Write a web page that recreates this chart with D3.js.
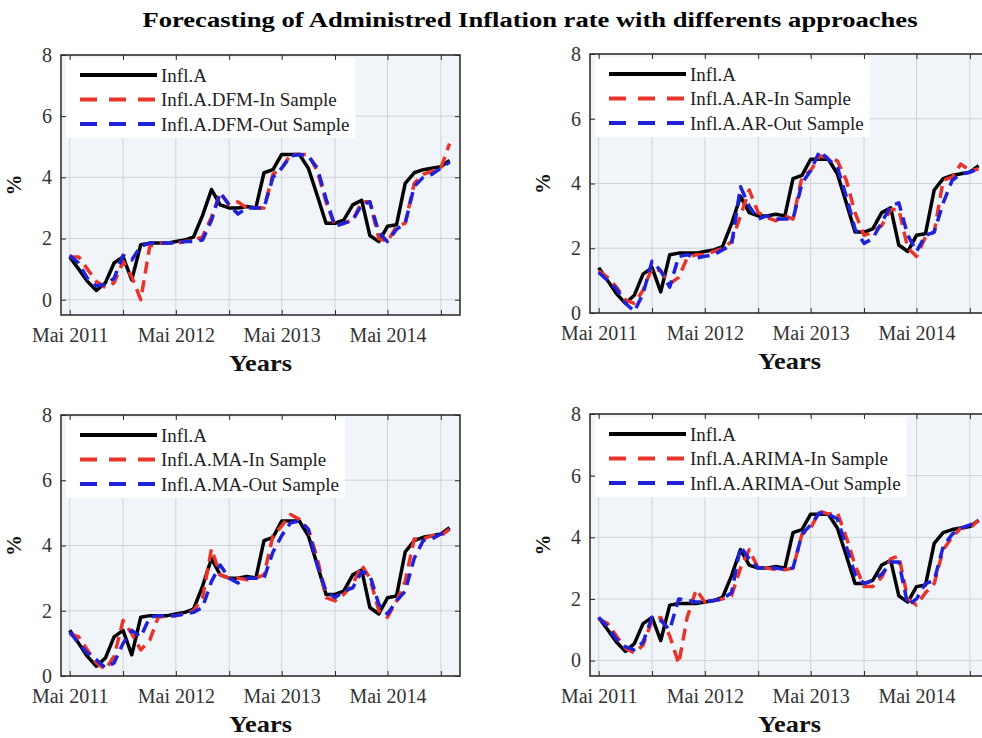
<!DOCTYPE html>
<html>
<head>
<meta charset="utf-8">
<script src="https://cdn.jsdelivr.net/npm/d3@7"></script>
<style>
  html, body { margin: 0; padding: 0; background: #fff; }
  svg { display: block; }
  text { font-family: "Liberation Serif", "Times New Roman", serif; }
</style>
</head>
<body>
<svg id="chart" width="982" height="738"></svg>
<script>
// Monthly observations, May 2011 - Dec 2014
const months = [
  "2011-05","2011-06","2011-07","2011-08","2011-09","2011-10","2011-11","2011-12",
  "2012-01","2012-02","2012-03","2012-04","2012-05","2012-06","2012-07","2012-08","2012-09","2012-10","2012-11","2012-12",
  "2013-01","2013-02","2013-03","2013-04","2013-05","2013-06","2013-07","2013-08","2013-09","2013-10","2013-11","2013-12",
  "2014-01","2014-02","2014-03","2014-04","2014-05","2014-06","2014-07","2014-08","2014-09","2014-10","2014-11","2014-12"
];

const xTickLabels = ["Mai 2011", "Mai 2012", "Mai 2013", "Mai 2014"];
const yTicks = [0, 2, 4, 6, 8];

// Administered inflation (actual)
const inflA = [1.4,1.0,0.6,0.3,0.55,1.2,1.4,0.65,1.8,1.85, 1.85,1.85,1.9,1.95,2.05,2.75,3.6,3.1,3.0,3.0,
  3.05,3.0,4.15,4.25,4.75,4.75,4.75,4.3,3.4,2.5, 2.5,2.6,3.1,3.25,2.1,1.9,2.4,2.45,3.8,4.15, 4.25,4.3,4.35,4.55];

// Dynamic factor model
const dfmIn  = [1.4,1.4,1.0,0.6,0.4,0.55,1.25,0.75,0.0,1.75, 1.85,1.85,1.85,1.9,1.95,2.05,2.7,3.5,3.1,3.2,
  3.0,3.0,3.0,4.1,4.3,4.75,4.75,4.75,4.2,3.2, 2.4,2.5,2.6,3.2,3.2,2.0,1.9,2.4,2.5,3.8, 4.1,4.2,4.3,5.1];
const dfmOut = [1.45,1.2,0.7,0.45,0.5,0.7,1.45,1.3,1.75,1.85, 1.85,1.85,1.85,1.9,1.9,1.95,2.6,3.5,3.1,2.8,
  3.0,3.0,3.0,4.0,4.3,4.7,4.75,4.7,4.3,3.3, 2.4,2.5,2.6,3.1,3.2,2.2,1.9,2.3,2.5,3.7, 4.0,4.1,4.3,4.5];

// Autoregressive model
const arIn  = [1.3,1.1,0.8,0.4,0.3,0.7,1.4,1.3,0.9,1.1, 1.7,1.8,1.8,1.9,2.0,2.2,3.0,3.8,3.1,2.95,
  2.85,3.0,2.9,4.2,4.4,4.85,4.8,4.7,4.1,3.1, 2.4,2.5,2.7,3.2,3.2,2.0,1.75,2.35,2.5,4.1, 4.2,4.6,4.4,4.45];
const arOut = [1.25,1.0,0.75,0.3,0.05,0.6,1.6,1.3,0.8,1.75, 1.8,1.7,1.75,1.8,1.95,2.1,3.9,3.3,2.9,3.0,
  2.9,2.9,2.9,4.0,4.4,5.0,4.75,4.5,3.6,2.6, 2.15,2.3,2.8,3.3,3.4,2.4,1.9,2.4,2.5,3.4, 4.1,4.3,4.35,4.45];

// Moving-average model
const maIn  = [1.3,1.2,0.8,0.4,0.2,0.6,1.7,1.3,0.8,1.1, 1.8,1.85,1.85,1.9,2.0,2.4,3.9,3.1,3.0,3.0,
  2.95,3.0,3.1,4.3,4.6,4.95,4.8,4.5,3.6,2.4, 2.3,2.5,2.8,3.4,3.0,2.0,1.8,2.3,2.9,4.2, 4.2,4.3,4.3,4.5];
const maOut = [1.35,1.0,0.7,0.5,0.25,0.4,1.0,1.4,1.2,1.8, 1.85,1.85,1.85,1.9,1.95,2.1,2.9,3.4,3.0,2.85,
  3.0,3.0,3.0,3.8,4.3,4.7,4.75,4.5,3.4,2.6, 2.4,2.6,2.7,3.2,3.1,2.2,1.9,2.3,2.6,3.6, 4.15,4.2,4.35,4.5];

// ARIMA model
const arimaIn  = [1.35,1.2,0.8,0.4,0.25,0.5,1.3,1.4,0.8,-0.1, 1.4,2.3,1.9,1.95,2.0,2.1,3.0,3.6,3.0,3.0,
  2.95,2.95,3.0,4.1,4.3,4.85,4.75,4.8,4.0,3.1, 2.4,2.4,2.7,3.3,3.4,2.0,1.8,2.2,2.5,3.6, 4.0,4.3,4.3,4.55];
const arimaOut = [1.4,1.1,0.7,0.45,0.35,0.6,1.4,1.3,1.0,2.0, 1.95,1.9,1.9,1.95,2.0,2.2,3.7,3.3,3.0,3.0,
  3.0,2.95,3.0,4.1,4.4,4.8,4.75,4.6,3.7,2.8, 2.5,2.6,2.8,3.2,3.2,1.8,2.0,2.5,2.6,3.7, 4.1,4.3,4.4,4.55];

const parseMonth = d3.timeParse("%Y-%m");
const dates = months.map(parseMonth);
const gridDates = months.filter(m => m.endsWith("-05") || m.endsWith("-11")).map(parseMonth);

const panels = [
  { name: "DFM",   inS: dfmIn,   outS: dfmOut,   left: 61,  top: 55,  bottom: 315, yMin: -0.5 },
  { name: "AR",    inS: arIn,    outS: arOut,    left: 590, top: 54,  bottom: 313, yMin: 0 },
  { name: "MA",    inS: maIn,    outS: maOut,    left: 61,  top: 415, bottom: 676, yMin: 0 },
  { name: "ARIMA", inS: arimaIn, outS: arimaOut, left: 590, top: 414, bottom: 676, yMin: -0.5 }
];
const plotW = 399;

const colActual = "#000000";
const colIn = "#e8342a";
const colOut = "#1f22d8";
const axisInk = "#2b2b2b";

const svg = d3.select("#chart");

svg.append("text")
  .attr("x", 530).attr("y", 27)
  .attr("text-anchor", "middle")
  .attr("font-size", 20).attr("font-weight", "bold")
  .attr("textLength", 775).attr("lengthAdjust", "spacingAndGlyphs")
  .attr("fill", "#000")
  .text("Forecasting of Administred Inflation rate with differents approaches");

panels.forEach((p, idx) => {
  const x = d3.scaleTime()
    .domain([new Date(2011, 3, 1), new Date(2015, 0, 6)])
    .range([p.left, p.left + plotW]);
  const y = d3.scaleLinear().domain([p.yMin, 8]).range([p.bottom, p.top]);
  const h = p.bottom - p.top;

  const g = svg.append("g");
  const clipId = "clip" + idx;
  g.append("clipPath").attr("id", clipId)
    .append("rect").attr("x", p.left).attr("y", p.top).attr("width", plotW).attr("height", h);

  // plot background
  g.append("rect")
    .attr("x", p.left).attr("y", p.top).attr("width", plotW).attr("height", h)
    .attr("fill", "#f1f5fa");

  // grid
  const grid = g.append("g").attr("stroke", "#cfd3d9").attr("stroke-width", 1);
  grid.selectAll("line.v").data(gridDates).join("line")
    .attr("x1", d => x(d)).attr("x2", d => x(d))
    .attr("y1", p.top).attr("y2", p.bottom);
  grid.selectAll("line.h").data(yTicks).join("line")
    .attr("x1", p.left).attr("x2", p.left + plotW)
    .attr("y1", d => y(d)).attr("y2", d => y(d));

  // series
  const line = d3.line().x((d, i) => x(dates[i])).y(d => y(d));
  const lines = g.append("g").attr("clip-path", `url(#${clipId})`).attr("fill", "none")
    .attr("stroke-linejoin", "round");
  lines.append("path").datum(inflA).attr("d", line)
    .attr("stroke", colActual).attr("stroke-width", 3.5);
  lines.append("path").datum(p.inS).attr("d", line)
    .attr("stroke", colIn).attr("stroke-width", 3.5).attr("stroke-dasharray", "12,7");
  lines.append("path").datum(p.outS).attr("d", line)
    .attr("stroke", colOut).attr("stroke-width", 3.5).attr("stroke-dasharray", "12,7");

  // legend
  const leg = g.append("g");
  const legBox = leg.append("rect").attr("fill", "#ffffff");
  const entries = [
    { label: "Infl.A", color: colActual, dash: null },
    { label: `Infl.A.${p.name}-In Sample`, color: colIn, dash: "17,12" },
    { label: `Infl.A.${p.name}-Out Sample`, color: colOut, dash: "17,12" }
  ];
  let maxW = 0;
  entries.forEach((e, i) => {
    const ly = p.top + 20 + i * 24.5;
    leg.append("line")
      .attr("x1", p.left + 19).attr("x2", p.left + 96)
      .attr("y1", ly).attr("y2", ly)
      .attr("stroke", e.color).attr("stroke-width", 4)
      .attr("stroke-dasharray", e.dash);
    const t = leg.append("text")
      .attr("x", p.left + 100).attr("y", ly)
      .attr("dominant-baseline", "central")
      .attr("font-size", 19).attr("fill", "#222")
      .text(e.label);
    maxW = Math.max(maxW, t.node().getComputedTextLength());
  });
  legBox.attr("x", p.left + 5).attr("y", p.top + 3)
    .attr("width", 100 + maxW + 6 - 5).attr("height", 80);

  // frame
  g.append("rect")
    .attr("x", p.left).attr("y", p.top).attr("width", plotW).attr("height", h)
    .attr("fill", "none").attr("stroke", "#333").attr("stroke-width", 1.6);

  // axes
  const xAxis = d3.axisBottom(x).tickValues(gridDates)
    .tickSizeInner(-5).tickSizeOuter(0).tickPadding(13)
    .tickFormat((d, i) => (i % 2 === 0 ? xTickLabels[i / 2] : ""));
  const ax = g.append("g").attr("transform", `translate(0,${p.bottom})`).call(xAxis);
  ax.select(".domain").remove();
  ax.selectAll("line").attr("stroke", axisInk);
  ax.selectAll("text").attr("font-size", 20).attr("fill", "#333")
    .attr("font-family", "'Liberation Serif', 'Times New Roman', serif");

  const axTop = g.append("g").attr("transform", `translate(0,${p.top})`)
    .call(d3.axisTop(x).tickValues(gridDates).tickSizeInner(-5).tickSizeOuter(0).tickFormat(""));
  axTop.select(".domain").remove();
  axTop.selectAll("line").attr("stroke", axisInk);

  const yAxis = d3.axisLeft(y).tickValues(yTicks).tickSizeInner(-5).tickSizeOuter(0).tickPadding(9);
  const ay = g.append("g").attr("transform", `translate(${p.left},0)`).call(yAxis);
  ay.select(".domain").remove();
  ay.selectAll("line").attr("stroke", axisInk);
  ay.selectAll("text").attr("font-size", 20).attr("fill", "#333")
    .attr("font-family", "'Liberation Serif', 'Times New Roman', serif");

  const ayR = g.append("g").attr("transform", `translate(${p.left + plotW},0)`)
    .call(d3.axisRight(y).tickValues(yTicks).tickSizeInner(-5).tickSizeOuter(0).tickFormat(""));
  ayR.select(".domain").remove();
  ayR.selectAll("line").attr("stroke", axisInk);

  // axis titles
  g.append("text")
    .attr("x", p.left + plotW / 2).attr("y", p.bottom + 56)
    .attr("text-anchor", "middle")
    .attr("font-size", 23).attr("font-weight", "bold").attr("fill", "#111")
    .attr("textLength", 63).attr("lengthAdjust", "spacingAndGlyphs")
    .text("Years");
  g.append("text")
    .attr("transform", `translate(${p.left - 40},${(p.top + p.bottom) / 2}) rotate(-90)`)
    .attr("text-anchor", "middle")
    .attr("font-size", 21).attr("font-weight", "bold").attr("fill", "#111")
    .text("%");
});
</script>
</body>
</html>
